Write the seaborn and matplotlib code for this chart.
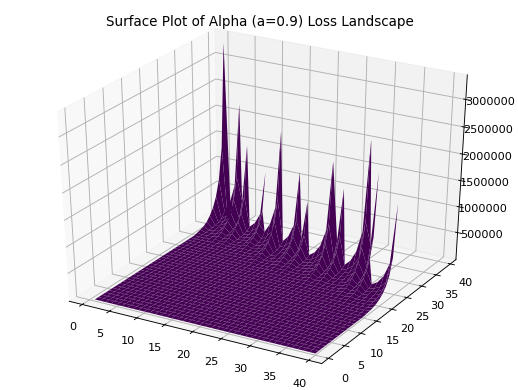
import numpy as np
import matplotlib
matplotlib.use("Agg")
import matplotlib.pyplot as plt
import seaborn as sns

# Spikes sit on a staircase edge of the surface: column, row and peak height of each
spike_columns = [0, 4, 6, 10, 14, 18, 20, 25, 27, 32, 34, 39]
spike_rows = [39, 37, 36, 35, 33, 32, 31, 30, 30, 29, 28, 25]
spike_heights = [3340000, 2340000, 1630000, 1250000, 2190000, 1540000, 1050000, 1970000, 1500000, 2560000, 2050000, 1700000]
# Last column that belongs to each step of the staircase
edge_columns = [1, 4, 6, 10, 14, 18, 20, 25, 27, 32, 34, 39]
# Fraction of the peak kept going away from the edge along a column (row 0, -1, -2 ...)
ridge_profile = [1.0, 0.42, 0.24, 0.15, 0.095, 0.06, 0.035, 0.02, 0.012, 0.006]
# Fraction of the peak kept on the columns just before a spike
side_profile = [1.0, 0.32, 0.16, 0.08, 0.04]
x_values = list(range(1, 41))
y_values = list(range(0, 40))
x_tick_values = [0, 5, 10, 15, 20, 25, 30, 35, 40]
z_tick_values = [500000, 1000000, 1500000, 2000000, 2500000, 3000000]

X, Y = np.meshgrid(x_values, y_values)
Z = np.zeros_like(X, dtype=float)
for col, row, peak in zip(spike_columns, spike_rows, spike_heights):
    for dr, fr in enumerate(ridge_profile):
        for dc, fc in enumerate(side_profile):
            if col - dc >= 0:
                Z[row - dr, col - dc] = max(Z[row - dr, col - dc], peak * fr * fc)
# Cells beyond the staircase edge hold no value
prev = -1
for col, row in zip(edge_columns, spike_rows):
    Z[row + 1:, prev + 1:col + 1] = np.nan
    prev = col

fig = plt.figure(figsize=(518 / 81, 390 / 81), dpi=81)
ax = fig.add_subplot(111, projection="3d")
ax.apply_aspect = lambda position=None: None
ax.set_box_aspect((1, 1, 1), zoom=1.082)
ax.set_position([0.065, 0.073, 0.874, 0.86])
ax.plot_surface(X, Y, Z, cmap=sns.color_palette("viridis", as_cmap=True), vmin=0, vmax=4e8,
                linewidth=0, antialiased=True, rcount=40, ccount=40)
ax.set_title("Surface Plot of Alpha (a=0.9) Loss Landscape", y=1.067)
ax.set_xlim(-2.4, 42.2)
ax.set_ylim(-2.0, 42.0)
ax.set_zlim(-33000, 3440000)
ax.set_xticks(x_tick_values)
ax.set_yticks(x_tick_values)
ax.set_zticks(z_tick_values)
ax.ticklabel_format(style="plain", axis="z", useOffset=False)
fig.savefig("out.png", dpi=81)
